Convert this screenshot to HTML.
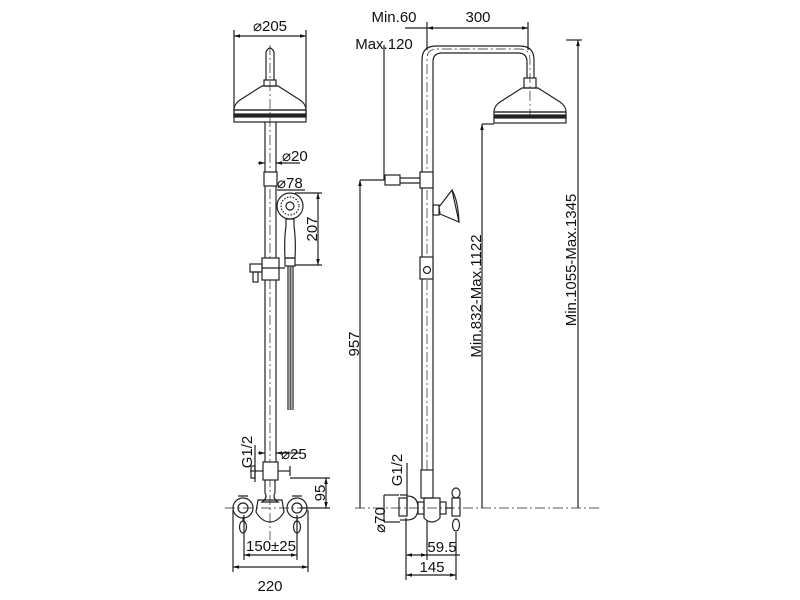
<!DOCTYPE html>
<html><head><style>
html,body{margin:0;padding:0;background:#fff;}
svg{display:block;}
text{font-family:"Liberation Sans",sans-serif;font-size:15px;fill:#111;}
</style></head><body>
<svg width="800" height="600" viewBox="0 0 800 600" xmlns="http://www.w3.org/2000/svg">
<defs>
<marker id="a" viewBox="0 0 10 10" refX="10" refY="5" markerWidth="5" markerHeight="5" orient="auto-start-reverse"><path d="M0,2 L10,5 L0,8z" fill="#111"/></marker>
</defs>
<g stroke="#222" stroke-width="1.2" fill="none">
<!-- LEFT FIGURE -->
<line x1="234" y1="30" x2="234" y2="118"/><line x1="306" y1="30" x2="306" y2="118"/>
<line x1="234" y1="36" x2="306" y2="36" marker-start="url(#a)" marker-end="url(#a)"/>
<path d="M266,80 V52 Q270,44 274,52 V80"/>
<rect x="264" y="80" width="12" height="6"/>
<path d="M262,86 H278 L300,100 Q306,104 306,110 H234 Q234,104 240,100 Z"/>
<rect x="234" y="110" width="72" height="12"/>
<rect x="234" y="114" width="72" height="3" fill="#222"/>
<line x1="265" y1="122" x2="265" y2="462"/><line x1="276" y1="122" x2="276" y2="462"/>
<line x1="270" y1="45" x2="270" y2="540" stroke-dasharray="10,3,2,3" stroke-width="0.7"/>
<line x1="258" y1="163" x2="265" y2="163" marker-end="url(#a)"/><line x1="283" y1="163" x2="276" y2="163" marker-end="url(#a)"/>
<line x1="276" y1="163" x2="300" y2="163"/>
<rect x="264" y="172" width="13" height="14" fill="#fff"/>
<circle cx="290" cy="206" r="13"/><circle cx="290" cy="206" r="9" stroke-dasharray="1.5,1.5"/><circle cx="290" cy="206" r="4"/>
<line x1="277" y1="190" x2="305" y2="190"/>
<path d="M286,219 H294 V226 Q296,240 295,258 H285 Q284,240 286,226 Z"/>
<rect x="285" y="258" width="10" height="8"/>
<line x1="295" y1="193" x2="322" y2="193"/><line x1="295" y1="265" x2="322" y2="265"/>
<line x1="318" y1="193" x2="318" y2="265" marker-start="url(#a)" marker-end="url(#a)"/>
<rect x="262" y="258" width="17" height="22" fill="#fff"/>
<line x1="252" y1="268" x2="285" y2="268"/><rect x="250" y="264" width="12" height="8" fill="#fff"/>
<rect x="253" y="272" width="5" height="10"/>
<path d="M288,266 V410 M293,266 V410"/>
<line x1="290.5" y1="266" x2="290.5" y2="410" stroke-width="2" stroke="#555"/>
<line x1="258" y1="453" x2="265" y2="453" marker-end="url(#a)"/><line x1="283" y1="453" x2="276" y2="453" marker-end="url(#a)"/><line x1="276" y1="453" x2="300" y2="453"/>
<rect x="263" y="462" width="15" height="18" fill="#fff"/>
<line x1="250" y1="471" x2="263" y2="471"/><rect x="251" y="466" width="4" height="12"/>
<line x1="278" y1="471" x2="290" y2="471"/><line x1="290" y1="466" x2="290" y2="476"/>
<line x1="290" y1="478" x2="330" y2="478"/><line x1="300" y1="508" x2="330" y2="508"/>
<line x1="326" y1="478" x2="326" y2="508" marker-start="url(#a)" marker-end="url(#a)"/>
<line x1="255" y1="445" x2="255" y2="482"/>
<path d="M265,480 V493 Q268,498 262,502 H278 Q272,498 275,493 V480"/>
<path d="M258,500 H282 L284,512 Q278,522 270,522 Q262,522 256,512 Z"/>
<line x1="225" y1="508" x2="315" y2="508" stroke-dasharray="10,3,2,3" stroke-width="0.7"/>
<circle cx="243" cy="508" r="10"/><circle cx="243" cy="508" r="5"/>
<circle cx="297" cy="508" r="10"/><circle cx="297" cy="508" r="5"/>
<path d="M238,496 L248,496 M292,496 L302,496"/>
<ellipse cx="243" cy="527" rx="3.5" ry="6"/><ellipse cx="297" cy="527" rx="3.5" ry="6"/>
<line x1="243" y1="517" x2="243" y2="521"/><line x1="297" y1="517" x2="297" y2="521"/>
<line x1="244" y1="515" x2="244" y2="560"/><line x1="297" y1="515" x2="297" y2="560"/>
<line x1="244" y1="555" x2="297" y2="555" marker-start="url(#a)" marker-end="url(#a)"/>
<line x1="233" y1="510" x2="233" y2="572"/><line x1="308" y1="510" x2="308" y2="572"/>
<line x1="233" y1="567" x2="308" y2="567" marker-start="url(#a)" marker-end="url(#a)"/>

<!-- RIGHT FIGURE -->
<path d="M422,470 V60 Q422,46 436,46 H520 Q534,46 534,60 V78"/>
<path d="M433,470 V62 Q433,53 442,53 H518 Q527,53 527,62 V78"/>
<path d="M427,470 V58 Q427,49 438,49 H520 Q530,49 530,60 V118" stroke-dasharray="10,3,2,3" stroke-width="0.7"/>
<rect x="524" y="78" width="12" height="10"/>
<path d="M522,88 H538 L560,102 Q566,106 566,112 H494 Q494,106 500,102 Z"/>
<rect x="494" y="112" width="72" height="11"/><rect x="494" y="115" width="72" height="3" fill="#222"/>
<line x1="427" y1="22" x2="427" y2="50"/><line x1="528" y1="22" x2="528" y2="50"/>
<line x1="427" y1="28" x2="528" y2="28" marker-start="url(#a)" marker-end="url(#a)"/>
<line x1="405" y1="28" x2="427" y2="28"/>
<line x1="384" y1="45" x2="384" y2="180"/>
<rect x="385" y="175" width="15" height="10"/><line x1="400" y1="178" x2="420" y2="178"/><line x1="400" y1="183" x2="420" y2="183"/>
<rect x="420" y="172" width="13" height="16" fill="#fff"/>
<line x1="360" y1="180" x2="385" y2="180"/>
<rect x="433" y="205" width="6" height="10"/>
<path d="M439,207 L452,190 L459,222 L440,214 Z" fill="#fff"/>
<path d="M452,190 Q458,200 459,222"/>
<rect x="420" y="257" width="13" height="22" fill="#fff"/><circle cx="427" cy="270" r="3.5"/>
<line x1="360" y1="180" x2="360" y2="508" marker-start="url(#a)"/>
<line x1="482" y1="124" x2="482" y2="508" marker-start="url(#a)"/>
<line x1="482" y1="124" x2="494" y2="124"/>
<line x1="578" y1="40" x2="578" y2="508" marker-start="url(#a)"/>
<line x1="566" y1="40" x2="582" y2="40"/>
<line x1="355" y1="508" x2="600" y2="508" stroke-dasharray="10,3,2,3" stroke-width="0.7"/>
<rect x="421" y="470" width="12" height="28" fill="#fff"/>
<line x1="407" y1="463" x2="407" y2="515"/><line x1="400" y1="495" x2="407" y2="495"/><line x1="400" y1="520" x2="407" y2="520"/>
<rect x="399" y="498" width="8" height="18"/>
<path d="M407,496 Q418,496 418,508 Q418,520 407,520"/>
<rect x="418" y="502" width="6" height="12"/>
<path d="M424,498 H440 V518 Q432,526 424,518 Z"/>
<rect x="440" y="502" width="6" height="12"/>
<line x1="446" y1="508" x2="452" y2="508"/>
<ellipse cx="456" cy="493" rx="4" ry="5"/><rect x="452" y="498" width="8" height="18"/><ellipse cx="456" cy="525" rx="3.5" ry="6"/>
<line x1="384" y1="495" x2="384" y2="522"/><line x1="384" y1="522" x2="400" y2="522"/><line x1="384" y1="495" x2="399" y2="495"/>
<line x1="406" y1="518" x2="406" y2="580"/><line x1="427" y1="520" x2="427" y2="560"/><line x1="456" y1="532" x2="456" y2="580"/>
<line x1="406" y1="555" x2="427" y2="555" marker-start="url(#a)" marker-end="url(#a)"/><line x1="427" y1="555" x2="460" y2="555"/>
<line x1="406" y1="575" x2="456" y2="575" marker-start="url(#a)" marker-end="url(#a)"/>
</g>
<text x="270" y="31" text-anchor="middle">⌀205</text>
<text x="282" y="161">⌀20</text>
<text x="277" y="188">⌀78</text>
<text x="317" y="229" transform="rotate(-90 317 229)" text-anchor="middle">207</text>
<text x="281" y="459">⌀25</text>
<text x="252" y="452" transform="rotate(-90 252 452)" text-anchor="middle">G1/2</text>
<text x="325" y="493" transform="rotate(-90 325 493)" text-anchor="middle">95</text>
<text x="271" y="551" text-anchor="middle">150±25</text>
<text x="270" y="591" text-anchor="middle">220</text>
<text x="394" y="22" text-anchor="middle">Min.60</text>
<text x="384" y="49" text-anchor="middle">Max.120</text>
<text x="478" y="22" text-anchor="middle">300</text>
<text x="359" y="344" transform="rotate(-90 359 344)" text-anchor="middle">957</text>
<text x="481" y="296" transform="rotate(-90 481 296)" text-anchor="middle">Min.832-Max.1122</text>
<text x="576" y="260" transform="rotate(-90 576 260)" text-anchor="middle">Min.1055-Max.1345</text>
<text x="402" y="470" transform="rotate(-90 402 470)" text-anchor="middle">G1/2</text>
<text x="385" y="520" transform="rotate(-90 385 520)" text-anchor="middle">⌀70</text>
<text x="442" y="552" text-anchor="middle">59.5</text>
<text x="432" y="572" text-anchor="middle">145</text>
</svg>
</body></html>
